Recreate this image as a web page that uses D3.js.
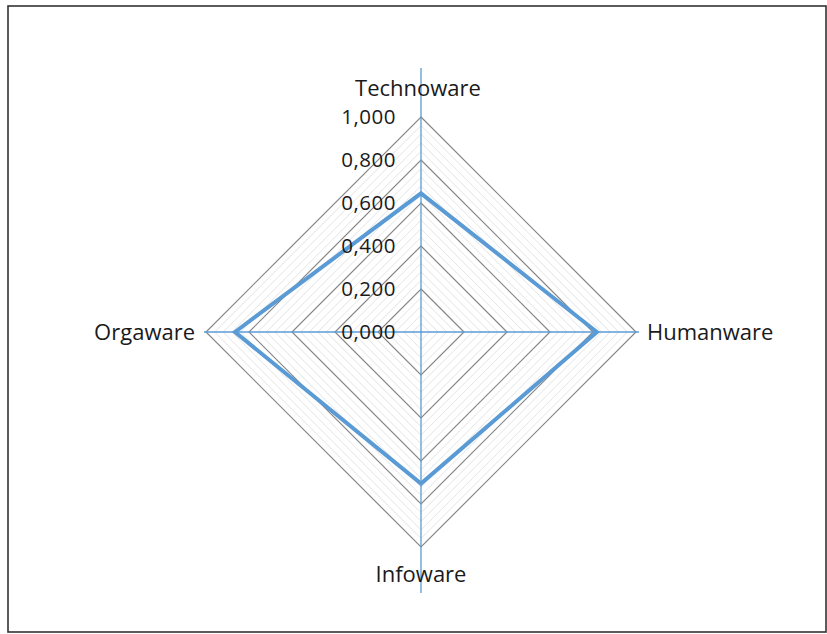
<!DOCTYPE html>
<html>
<head>
<meta charset="utf-8">
<script src="https://cdn.jsdelivr.net/npm/d3@7"></script>
<style>
  body { margin: 0; background: #fff; }
  text { font-family: "Open Sans", "DejaVu Sans", sans-serif; fill: #1a1a1a; }
</style>
</head>
<body>
<div id="chart"></div>
<script>
// data
let categories = ["Technoware", "Humanware", "Infoware", "Orgaware"];
let values = [0.645, 0.818, 0.705, 0.865];
let majorTicks = [0, 0.2, 0.4, 0.6, 0.8, 1.0];
let tickLabels = ["0,000", "0,200", "0,400", "0,600", "0,800", "1,000"];

let width = 827, height = 634;
let cx = 421, cy = 332, radius = 215;

let svg = d3.select("#chart").append("svg")
  .attr("width", width)
  .attr("height", height);

// outer frame
svg.append("rect")
  .attr("x", 8).attr("y", 6)
  .attr("width", 818).attr("height", 626)
  .attr("fill", "#fff")
  .attr("stroke", "#333")
  .attr("stroke-width", 1.6);

let r = d3.scaleLinear().domain([0, 1]).range([0, radius]);
let angle = d3.scaleLinear().domain([0, categories.length]).range([0, 2 * Math.PI]);

let plot = svg.append("g").attr("transform", `translate(${cx},${cy})`);

function ringPoints(v) {
  return categories.map((c, i) => [
    r(v) * Math.sin(angle(i)),
    -r(v) * Math.cos(angle(i))
  ]);
}

let line = d3.line().curve(d3.curveLinearClosed);

// minor grid
let minorTicks = d3.range(0.04, 1.0001, 0.04).filter(t => Math.abs(t * 5 - Math.round(t * 5)) > 1e-6);
plot.selectAll(".minor").data(minorTicks).enter().append("path")
  .attr("class", "minor")
  .attr("d", d => line(ringPoints(d)))
  .attr("fill", "none")
  .attr("stroke", "#e3e3e3")
  .attr("stroke-width", 1);

// major grid
plot.selectAll(".major").data(majorTicks.filter(t => t > 0)).enter().append("path")
  .attr("class", "major")
  .attr("d", d => line(ringPoints(d)))
  .attr("fill", "none")
  .attr("stroke", "#858585")
  .attr("stroke-width", 1.2);

// axis lines (blue)
plot.append("line")
  .attr("x1", 0).attr("y1", -264).attr("x2", 0).attr("y2", 261)
  .attr("stroke", "#5b9bd5").attr("stroke-width", 1.3);
plot.append("line")
  .attr("x1", -r(1) - 2).attr("y1", 0).attr("x2", r(1) + 3).attr("y2", 0)
  .attr("stroke", "#5b9bd5").attr("stroke-width", 1.3);

// data series
plot.append("path")
  .attr("d", line(values.map((v, i) => [
    r(v) * Math.sin(angle(i)),
    -r(v) * Math.cos(angle(i))
  ])))
  .attr("fill", "none")
  .attr("stroke", "#5b9bd5")
  .attr("stroke-width", 4)
  .attr("stroke-linejoin", "miter");

// tick labels
plot.selectAll(".tick-label").data(majorTicks).enter().append("text")
  .attr("class", "tick-label")
  .attr("x", -25)
  .attr("y", d => -r(d))
  .attr("dy", "0.35em")
  .attr("text-anchor", "end")
  .attr("font-size", 20.5)
  .attr("letter-spacing", 0.5)
  .text((d, i) => tickLabels[i]);

// category labels
let labelPos = [
  { x: -3, y: -244, anchor: "middle" },
  { x: 226, y: 0, anchor: "start" },
  { x: 0, y: 242, anchor: "middle" },
  { x: -226, y: 0, anchor: "end" }
];
plot.selectAll(".cat-label").data(categories).enter().append("text")
  .attr("class", "cat-label")
  .attr("x", (d, i) => labelPos[i].x)
  .attr("y", (d, i) => labelPos[i].y)
  .attr("dy", "0.35em")
  .attr("text-anchor", (d, i) => labelPos[i].anchor)
  .attr("font-size", 22)
  .text(d => d);
</script>
</body>
</html>
